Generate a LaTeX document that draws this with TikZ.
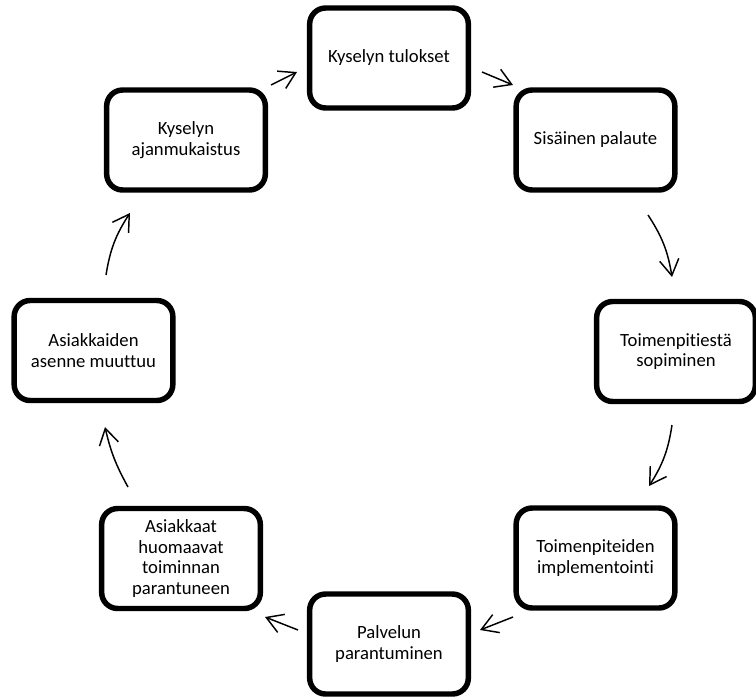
\documentclass[tikz,border=0pt]{standalone}
\usepackage{fontspec}
\setmainfont{Carlito}[Ligatures=NoCommon]
\usetikzlibrary{arrows.meta}

\begin{document}
\begin{tikzpicture}[x=0.75pt,y=0.75pt,
        caja/.style={draw,line width=4.1pt,rounded corners=12pt,minimum width=119pt,minimum height=75pt,
            inner sep=0pt,align=center,font=\fontsize{14}{15.6}\selectfont},
        flecha/.style={line width=1.1pt,-{Straight Barb[length=12pt,width=14.5pt]}}]
        \useasboundingbox (0,0) rectangle (756,-697);

        %cajas
        \node[caja] (tulokset) at (389,-58) {Kyselyn tulokset};
        \node[caja] (palaute) at (595.5,-140) {Sisäinen palaute};
        \node[caja] (sopiminen) at (676,-351.5) {Toimenpitiestä\\sopiminen};
        \node[caja] (implementointi) at (595.5,-558) {Toimenpiteiden\\implementointi};
        \node[caja] (parantuminen) at (389,-644) {Palvelun\\parantuminen};
        \node[caja] (huomaavat) at (181,-558.5) {Asiakkaat\\huomaavat\\toiminnan\\parantuneen};
        \node[caja] (asenne) at (93.5,-350.5) {Asiakkaiden\\asenne muuttuu};
        \node[caja] (ajanmukaistus) at (186,-140) {Kyselyn\\ajanmukaistus};

        % Flechas entre cajas
        \draw[flecha] ([shift={(93,-14)}]tulokset.center) -- ([shift={(-82.5,55)}]palaute.center);
        \draw[flecha] ([shift={(52.5,-75)}]palaute.center) to[bend left=12] ([shift={(-4,74.5)}]sopiminen.center);
        \draw[flecha] ([shift={(-4,-73.5)}]sopiminen.center) to[bend left=12] ([shift={(53.5,72)}]implementointi.center);
        \draw[flecha] ([shift={(-82.5,-59)}]implementointi.center) -- ([shift={(91,14)}]parantuminen.center);
        \draw[flecha] ([shift={(-91,14)}]parantuminen.center) -- ([shift={(84,-58.5)}]huomaavat.center);
        \draw[flecha] ([shift={(-53,71.5)}]huomaavat.center) to[bend left=8] ([shift={(11.5,-76.5)}]asenne.center);
        \draw[flecha] ([shift={(12.5,75.5)}]asenne.center) to[bend left=12] ([shift={(-56,-73)}]ajanmukaistus.center);
        \draw[flecha] ([shift={(85,55)}]ajanmukaistus.center) -- ([shift={(-92,-14)}]tulokset.center);
    \end{tikzpicture}
\end{document}
